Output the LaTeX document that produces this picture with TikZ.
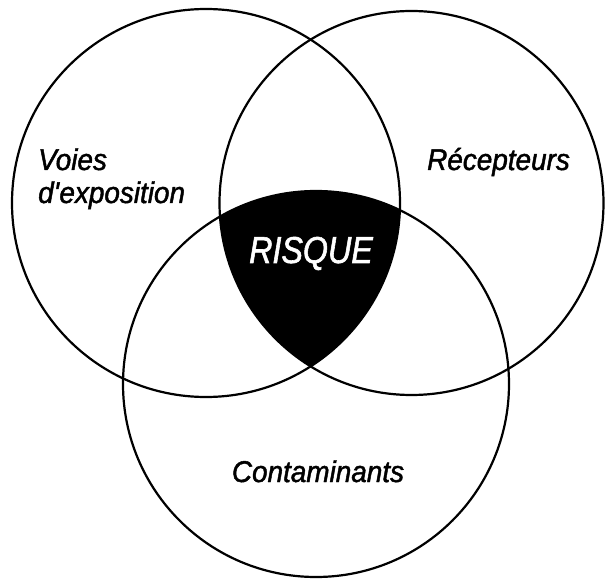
\documentclass[tikz,border=0pt]{standalone}
\usepackage{fontspec}
\setmainfont{Liberation Sans}
\newfontfamily\lblfont{Liberation Sans}[FakeStretch=0.93, FakeBold=1.5]
\newfontfamily\riskfont{Liberation Sans}[FakeStretch=0.86, FakeBold=1.5]
\begin{document}
\begin{tikzpicture}[x=1pt,y=1pt,
  ring/.style={line width=2.2pt},
  lbl/.style={font=\lblfont\itshape\fontsize{30}{32}\selectfont, inner sep=0pt},
  risk/.style={font=\riskfont\itshape\fontsize{37.5}{40}\selectfont, inner sep=0pt, text=white}]
\useasboundingbox (0,0) rectangle (605,579);
\coordinate (L) at (206,376);
\coordinate (R) at (411.5,376);
\coordinate (B) at (316,195);
\begin{scope}
  \clip (L) circle (194pt);
  \clip (R) circle (192pt);
  \fill[black] (B) circle (193pt);
\end{scope}
\draw[ring] (L) circle (194pt);
\draw[ring] (R) circle (192pt);
\draw[ring] (B) circle (193pt);
\node[lbl, anchor=base west] (voies) at (38,409) {Voies};
\node[lbl, anchor=base west] (expo) at (38,376) {d\textquotesingle exposition};
\node[lbl, anchor=base west] (recep) at (427,409) {Récepteurs};
\node[risk, anchor=base] (risque) at (311,316) {RISQUE};
\node[lbl, anchor=base] (conta) at (318,97) {Contaminants};
\end{tikzpicture}
\end{document}
